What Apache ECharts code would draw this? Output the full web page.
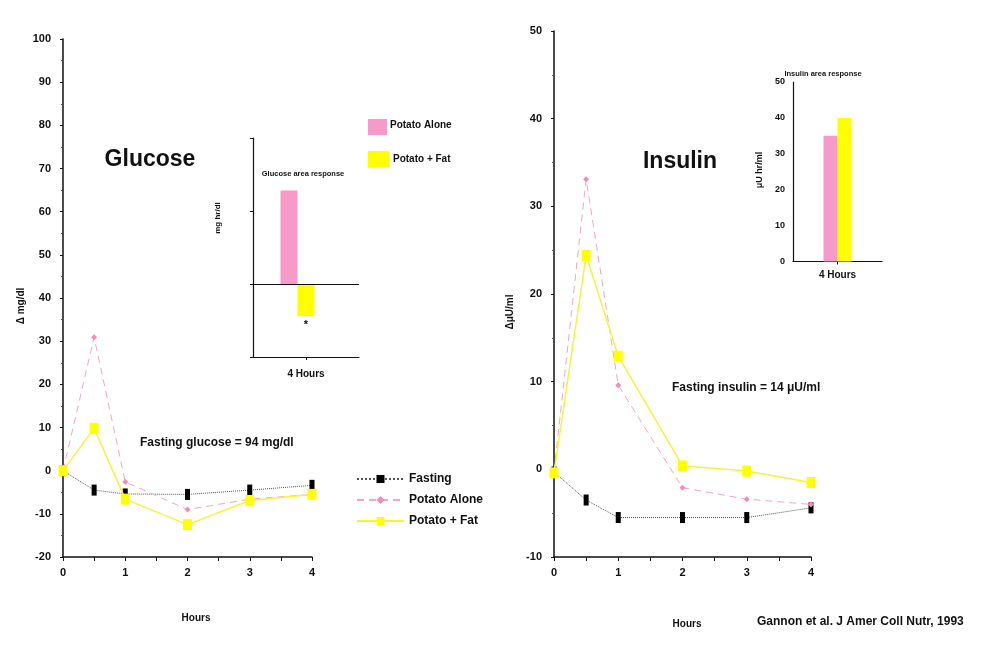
<!DOCTYPE html>
<html>
<head>
<meta charset="utf-8">
<script src="https://cdn.jsdelivr.net/npm/echarts@6/dist/echarts.min.js"></script>
<style>
  html, body { margin: 0; padding: 0; background: #fff; }
  #chart { width: 993px; height: 662px; }
</style>
</head>
<body>
<div id="chart"></div>
<script>
// time points (hours) and change from fasting values
const hours = [0, 0.5, 1, 2, 3, 4];
const glucoseFasting = [0, -4.5, -5.4, -5.5, -4.5, -3.4];
const glucoseAlone = [0, 30.9, -2.6, -9.0, -6.6, -5.5];
const glucoseFat = [0, 9.8, -6.6, -12.5, -6.9, -5.5];
const insulinFasting = [-0.3, -3.5, -5.5, -5.5, -5.5, -4.4];
const insulinAlone = [-0.3, 33.1, 9.6, -2.1, -3.4, -4.0];
const insulinFat = [-0.4, 24.4, 12.9, 0.4, -0.2, -1.5];

// inset bar charts (area response over 4 hours)
const areaCategory = ['4 Hours'];
const glucoseAreaAlone = [64];
const glucoseAreaFat = [-22];
const insulinAreaAlone = [35];
const insulinAreaFat = [40];

const FONT = '"Liberation Sans", Arial, sans-serif';
const PINK = '#f799c9';
const YELLOW = '#ffff00';

const pts = ys => hours.map((h, i) => [h, ys[i]]);

const txt = (text, x, y, size, opts) => Object.assign({
  type: 'text', x: x, y: y,
  style: { text: text, fontFamily: FONT, fontSize: size, fontWeight: 'bold', fill: '#111',
           textAlign: 'center', textVerticalAlign: 'middle' }
}, opts || {});

const mainX = (idx) => ({
  type: 'value', gridIndex: idx, min: 0, max: 4, interval: 1,
  axisLine: { show: true, onZero: false, lineStyle: { color: '#111', width: 1.5 } },
  axisTick: { show: true, length: 4, lineStyle: { color: '#111' } },
  minorTick: { show: true, splitNumber: 2, length: 4, lineStyle: { color: '#111' } },
  axisLabel: { fontFamily: FONT, fontWeight: 'bold', fontSize: 11, color: '#111', margin: 10 },
  splitLine: { show: false }
});

const mainY = (idx, min, max) => ({
  type: 'value', gridIndex: idx, min: min, max: max, interval: 10,
  axisLine: { show: true, onZero: false, lineStyle: { color: '#111', width: 1.5 } },
  axisTick: { show: true, length: 3, lineStyle: { color: '#111' } },
  minorTick: { show: true, splitNumber: 2, length: 2, lineStyle: { color: '#555' } },
  axisLabel: { fontFamily: FONT, fontWeight: 'bold', fontSize: 11, color: '#111', margin: 12 },
  splitLine: { show: false }
});

const lineSeries = (name, data, idx, kind) => {
  const base = {
    name: name, type: 'line', xAxisIndex: idx, yAxisIndex: idx,
    data: pts(data), animation: false, z: 3
  };
  if (kind === 'fasting') {
    return Object.assign(base, {
      symbol: 'rect', symbolSize: [5, 11],
      itemStyle: { color: '#000' },
      lineStyle: { color: '#555', width: 1, type: 'dotted' }
    });
  }
  if (kind === 'alone') {
    return Object.assign(base, {
      symbol: 'diamond', symbolSize: 6, z: 4,
      itemStyle: { color: '#f28cbf' },
      lineStyle: { color: '#f3a3cb', width: 1, type: [7, 5] }
    });
  }
  return Object.assign(base, {
    symbol: 'rect', symbolSize: [9, 11], z: 5,
    itemStyle: { color: YELLOW },
    lineStyle: { color: '#f4f43c', width: 1.5 }
  });
};

const chart = echarts.init(document.getElementById('chart'), null, { renderer: 'canvas' });

const option = {
  backgroundColor: '#fff',
  animation: false,
  legend: {
    data: ['Fasting', 'Potato Alone', 'Potato + Fat'],
    orient: 'vertical', left: 351, top: 468,
    itemWidth: 47, itemHeight: 10, itemGap: 9,
    textStyle: { fontFamily: FONT, fontWeight: 'bold', fontSize: 12, color: '#111' },
    selectedMode: false
  },
  grid: [
    { left: 63, top: 39, width: 249, height: 518 },
    { left: 253, top: 138, width: 106, height: 219 },
    { left: 554, top: 31, width: 257, height: 526 },
    { left: 793, top: 82, width: 89, height: 179.5 }
  ],
  xAxis: [
    mainX(0),
    {
      type: 'category', gridIndex: 1, data: areaCategory,
      axisLine: { show: true, onZero: false, lineStyle: { color: '#111', width: 1.2 } },
      axisTick: { show: true, alignWithLabel: true, length: 3, lineStyle: { color: '#111' } },
      axisLabel: { fontFamily: FONT, fontWeight: 'bold', fontSize: 10, color: '#111', margin: 12 }
    },
    mainX(2),
    {
      type: 'category', gridIndex: 3, data: areaCategory,
      axisLine: { show: true, lineStyle: { color: '#111', width: 1.2 } },
      axisTick: { show: true, alignWithLabel: true, length: 3, lineStyle: { color: '#111' } },
      axisLabel: { fontFamily: FONT, fontWeight: 'bold', fontSize: 10, color: '#111', margin: 9 }
    }
  ],
  yAxis: [
    mainY(0, -20, 100),
    {
      type: 'value', gridIndex: 1, min: -50, max: 100, interval: 50,
      axisLine: { show: true, onZero: false, lineStyle: { color: '#111', width: 1.2 } },
      axisTick: { show: true, length: 3, lineStyle: { color: '#111' } },
      axisLabel: { show: false },
      splitLine: { show: false }
    },
    mainY(2, -10, 50),
    {
      type: 'value', gridIndex: 3, min: 0, max: 50, interval: 10,
      axisLine: { show: true, lineStyle: { color: '#111', width: 1.2 } },
      axisTick: { show: false },
      axisLabel: { fontFamily: FONT, fontWeight: 'bold', fontSize: 9, color: '#111', margin: 8 },
      splitLine: { show: false }
    }
  ],
  series: [
    lineSeries('Fasting', glucoseFasting, 0, 'fasting'),
    lineSeries('Potato Alone', glucoseAlone, 0, 'alone'),
    lineSeries('Potato + Fat', glucoseFat, 0, 'fat'),
    lineSeries('Fasting', insulinFasting, 2, 'fasting'),
    lineSeries('Potato Alone', insulinAlone, 2, 'alone'),
    lineSeries('Potato + Fat', insulinFat, 2, 'fat'),
    {
      name: 'Glucose area: Potato Alone', type: 'bar', xAxisIndex: 1, yAxisIndex: 1,
      data: glucoseAreaAlone, barWidth: 17, barGap: '0%',
      itemStyle: { color: PINK },
      markLine: {
        silent: true, symbol: 'none', label: { show: false },
        lineStyle: { color: '#111', width: 1.2, type: 'solid' },
        data: [{ yAxis: 0 }]
      }
    },
    {
      name: 'Glucose area: Potato + Fat', type: 'bar', xAxisIndex: 1, yAxisIndex: 1,
      data: glucoseAreaFat, barWidth: 17, barGap: '0%',
      itemStyle: { color: YELLOW },
      label: { show: true, position: 'bottom', formatter: '*', fontFamily: FONT,
               fontWeight: 'bold', fontSize: 11, color: '#111', distance: 3 }
    },
    {
      name: 'spacer', type: 'bar', xAxisIndex: 1, yAxisIndex: 1,
      data: ['-'], barWidth: 17, barGap: '0%'
    },
    {
      name: 'Insulin area: Potato Alone', type: 'bar', xAxisIndex: 3, yAxisIndex: 3,
      data: insulinAreaAlone, barWidth: 14, barGap: '0%',
      itemStyle: { color: PINK }
    },
    {
      name: 'Insulin area: Potato + Fat', type: 'bar', xAxisIndex: 3, yAxisIndex: 3,
      data: insulinAreaFat, barWidth: 14, barGap: '0%',
      itemStyle: { color: YELLOW }
    }
  ],
  graphic: [
    txt('Glucose', 150, 160, 23),
    txt('Insulin', 680, 162, 23),
    txt('Fasting glucose = 94 mg/dl', 140, 443, 12, {}),
    txt('Fasting insulin = 14 \u03bcU/ml', 672, 388, 12, {}),
    txt('\u0394 mg/dl', 21, 306, 10, { rotation: Math.PI / 2 }),
    txt('\u0394\u03bcU/ml', 510, 312, 10, { rotation: Math.PI / 2 }),
    txt('Hours', 196, 618, 10),
    txt('Hours', 687, 624, 10),
    txt('Gannon et al. J Amer Coll Nutr, 1993', 757, 622, 12),
    txt('Glucose area response', 303, 174, 7.5),
    txt('mg hr/dl', 218, 218, 8, { rotation: Math.PI / 2 }),
    txt('Insulin area response', 823, 74, 7.5),
    txt('\u03bcU hr/ml', 760, 170, 9, { rotation: Math.PI / 2 }),
    { type: 'rect', shape: { x: 368, y: 119, width: 19, height: 16 }, style: { fill: PINK } },
    { type: 'rect', shape: { x: 368, y: 151, width: 21, height: 16 }, style: { fill: YELLOW } },
    txt('Potato Alone', 390, 125, 10),
    txt('Potato + Fat', 393, 159, 10)
  ]
};

// left-aligned labels
option.graphic.forEach(g => {
  if (g.type === 'text' && [
    'Fasting glucose = 94 mg/dl', 'Fasting insulin = 14 \u03bcU/ml',
    'Gannon et al. J Amer Coll Nutr, 1993', 'Potato Alone', 'Potato + Fat'
  ].indexOf(g.style.text) >= 0) {
    g.style.textAlign = 'left';
  }
});

chart.setOption(option);
</script>
</body>
</html>
